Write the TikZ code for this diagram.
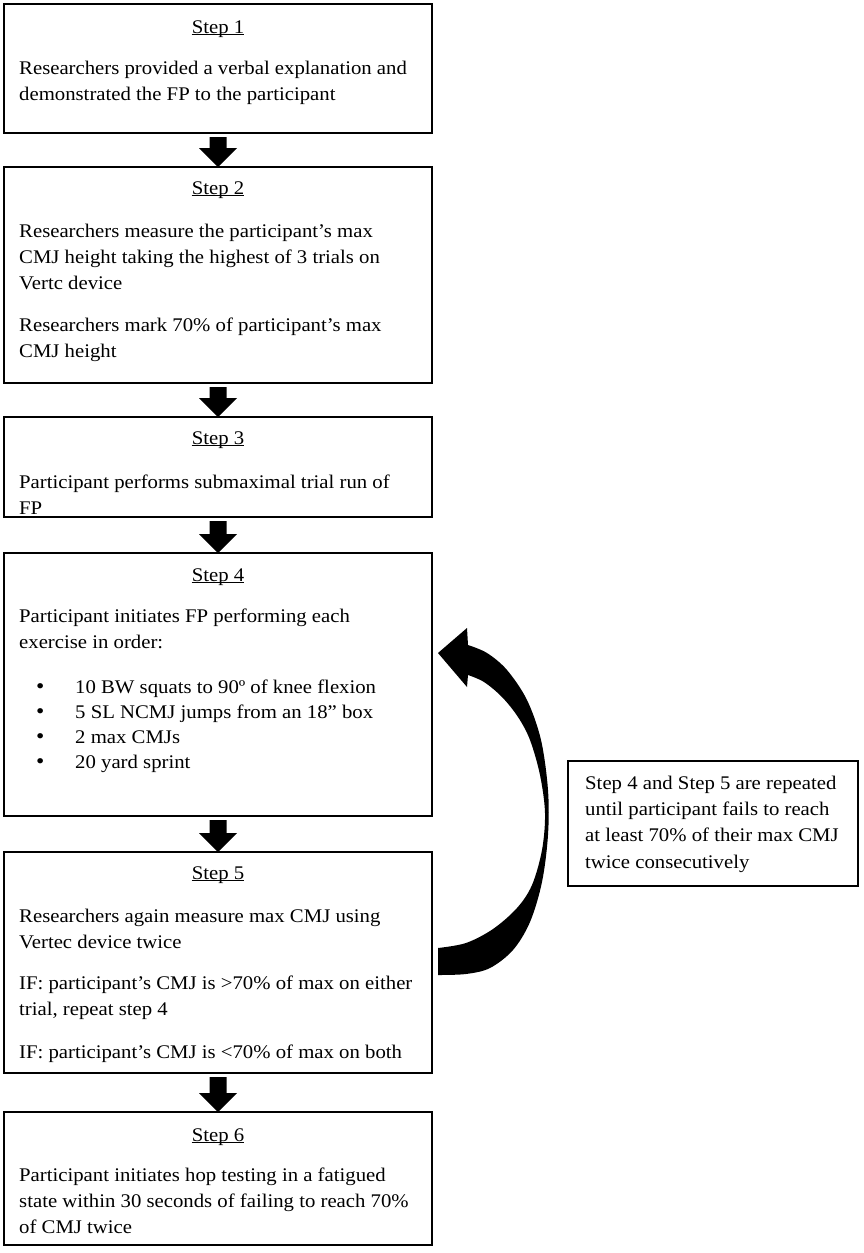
\documentclass[tikz,border=0pt]{standalone}
\usepackage{fontspec}
\setmainfont{Liberation Serif}[FakeStretch=1.075]
\usetikzlibrary{calc}
\tikzset{
  stepbox/.style={draw=black, line width=1.8pt, rectangle, inner sep=0pt, outer sep=0pt, anchor=north west},
  steptitle/.style={anchor=base, inner sep=0pt, font=\fontsize{19.3}{25.6}\selectfont},
  bodytext/.style={anchor=base west, inner sep=0pt, align=left, font=\fontsize{19.3}{25.6}\selectfont},
  bullettext/.style={anchor=base west, inner sep=0pt, align=left, font=\fontsize{19.3}{25}\selectfont},
  ulined/.style={line width=1.1pt},
}
\newcommand\blockdown[2]{%
  \fill let \p1=(#1.south), \p2=(#2.north) in
   (\x1-8.5pt,\y1-4pt) -- (\x1+8.5pt,\y1-4pt) -- (\x1+8.5pt,\y2+19pt) -- (\x1+19pt,\y2+19pt)
   -- (\x1,\y2) -- (\x1-19pt,\y2+19pt) -- (\x1-8.5pt,\y2+19pt) -- cycle;}
\newcommand\titleline[1]{%
  \draw[ulined] ([yshift=-1.8pt]#1.base west) -- ([yshift=-1.8pt]#1.base east);}
\begin{document}
\begin{tikzpicture}[x=1pt,y=-1pt]
\useasboundingbox (0,0) rectangle (864,1253);

% boxes
\node[stepbox, minimum width=428pt, minimum height=129pt] (s1) at (4,4) {};
\node[stepbox, minimum width=428pt, minimum height=216pt] (s2) at (4,167) {};
\node[stepbox, minimum width=428pt, minimum height=100pt] (s3) at (4,417) {};
\node[stepbox, minimum width=428pt, minimum height=263pt] (s4) at (4,553) {};
\node[stepbox, minimum width=428pt, minimum height=221pt] (s5) at (4,852) {};
\node[stepbox, minimum width=428pt, minimum height=133pt] (s6) at (4,1112) {};
\node[stepbox, minimum width=290pt, minimum height=125pt] (side) at (568,761) {};

% titles
\node[steptitle] (t1) at (218,33) {Step 1}; \titleline{t1}
\node[steptitle] (t2) at (218,194) {Step 2}; \titleline{t2}
\node[steptitle] (t3) at (218,444) {Step 3}; \titleline{t3}
\node[steptitle] (t4) at (218,581) {Step 4}; \titleline{t4}
\node[steptitle] (t5) at (218,879) {Step 5}; \titleline{t5}
\node[steptitle] (t6) at (218,1141) {Step 6}; \titleline{t6}

% body texts (anchored at the baseline of their last line)
\node[bodytext] (b1) at (19,100) {Researchers provided a verbal explanation and\\demonstrated the FP to the participant};
\node[bodytext] (b2a) at (19,289) {Researchers measure the participant’s max\\CMJ height taking the highest of 3 trials on\\Vertc device};
\node[bodytext] (b2b) at (19,357) {Researchers mark 70\% of participant’s max\\CMJ height};
\node[bodytext] (b3) at (19,514) {Participant performs submaximal trial run of\\FP};
\node[bodytext] (b4) at (19,648) {Participant initiates FP performing each\\exercise in order:};
\node[bullettext, font=\fontsize{22}{25}\selectfont] (b4d) at (36,768) {•\\•\\•\\•};
\node[bullettext] (b4l) at (75,768) {10 BW squats to 90º of knee flexion\\5 SL NCMJ jumps from an 18” box\\2 max CMJs\\20 yard sprint};
\node[bodytext] (b5a) at (19,948) {Researchers again measure max CMJ using\\Vertec device twice};
\node[bodytext] (b5b) at (19,1015) {IF: participant’s CMJ is >70\% of max on either\\trial, repeat step 4};
\node[bodytext] (b5c) at (19,1058) {IF: participant’s CMJ is <70\% of max on both};
\node[bodytext, font=\fontsize{19.3}{26}\selectfont] (b6) at (19,1233) {Participant initiates hop testing in a fatigued\\state within 30 seconds of failing to reach 70\%\\of CMJ twice};
\node[bodytext, font=\fontsize{19.3}{26.3}\selectfont] (bs) at (585,868) {Step 4 and Step 5 are repeated\\until participant fails to reach\\at least 70\% of their max CMJ\\twice consecutively};

% straight block arrows
\blockdown{s1}{s2}
\blockdown{s2}{s3}
\blockdown{s3}{s4}
\blockdown{s4}{s5}
\blockdown{s5}{s6}

% curved loop arrow from Step 5 back to Step 4
\coordinate (looptip) at (438,653);
\fill plot[smooth, tension=0.55] coordinates {(438,975) (466,974) (490,968) (513,950) (530,922) (542,882) (548,835) (548,790) (541,740) (527,700) (507,670) (487,653) (468,645)}
  -- (467,628) -- (looptip) -- (467,687) --
  plot[smooth, tension=0.55] coordinates {(468,675) (484,682) (502,697) (518,717) (530,740) (540,775) (545,813) (542,850) (532,885) (517,908) (493,929) (466,943) (438,948)}
  -- cycle;
\end{tikzpicture}
\end{document}
